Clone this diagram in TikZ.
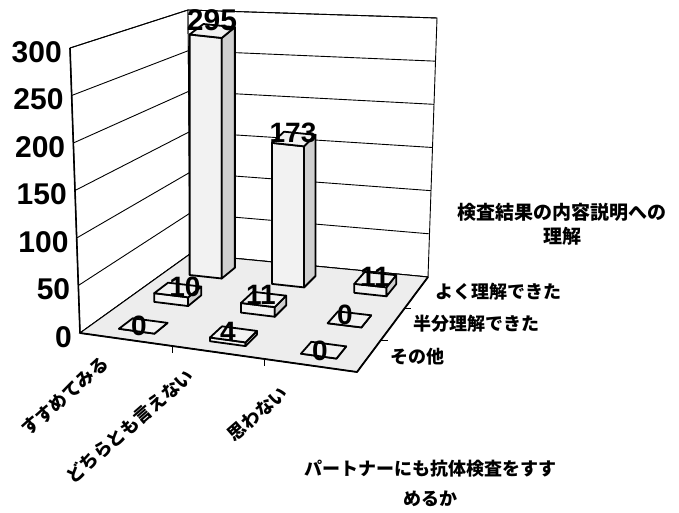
\documentclass[tikz,border=0pt]{standalone}
\usepackage{fontspec}
\setmainfont{Liberation Sans}
\newfontfamily\jp{Noto Sans CJK JP}
\usetikzlibrary{calc}

\newcommand\fp[3]{%
  \pgfmathsetmacro\fpx{(1-(#3))*((1-(#2))*80+(#2)*357)+(#3)*((1-(#2))*190+(#2)*428)}%
  \pgfmathsetmacro\fpy{(1-(#3))*((1-(#2))*333+(#2)*372)+(#3)*((1-(#2))*254+(#2)*277)}%
  \coordinate (#1) at (\fpx,\fpy);}

\newcommand\mybar[4]{%
  \pgfmathsetmacro\bh{(#4)*(0.957-0.17*(#3))}%
  \fp{#1a}{#2-0.065}{#3-0.065}%
  \fp{#1b}{#2+0.065}{#3-0.065}%
  \fp{#1c}{#2+0.065}{#3+0.065}%
  \fp{#1d}{#2-0.065}{#3+0.065}%
  \coordinate (#1A) at ($(#1a)+(0,-\bh)$);
  \coordinate (#1B) at ($(#1b)+(0,-\bh)$);
  \coordinate (#1C) at ($(#1c)+(0,-\bh)$);
  \coordinate (#1D) at ($(#1d)+(0,-\bh)$);
  \filldraw[barfront] (#1a)--(#1b)--(#1B)--(#1A)--cycle;
  \filldraw[barside] (#1b)--(#1c)--(#1C)--(#1B)--cycle;
  \filldraw[bartop] (#1A)--(#1B)--(#1C)--(#1D)--cycle;
}

\tikzset{
  barfront/.style={fill=gray!10, draw=black, line width=1.8pt, line join=round},
  barside/.style={fill=gray!38, draw=black, line width=1.8pt, line join=round},
  bartop/.style={fill=gray!10, draw=black, line width=1.8pt, line join=round},
  grid/.style={draw=black, line width=0.9pt},
  ylab/.style={font=\fontsize{30}{30}\selectfont\bfseries, anchor=east, inner sep=0pt},
  dlab/.style={font=\fontsize{28}{28}\selectfont\bfseries, inner sep=0pt},
  cat/.style={font=\jp\bfseries\fontsize{18}{18}\selectfont, rotate=41, anchor=east, inner sep=0pt},
  leg/.style={font=\jp\bfseries\fontsize{18}{18}\selectfont, anchor=west, inner sep=0pt},
  ttl/.style={font=\jp\bfseries\fontsize{19}{24}\selectfont, align=center, inner sep=0pt},
}

\begin{document}
\begin{tikzpicture}[x=1pt,y=-1pt]
\useasboundingbox (0,0) rectangle (679,513);

% corners
\coordinate (FL) at (80,333);
\coordinate (FR) at (357,372);
\coordinate (BR) at (428,277);
\coordinate (BL) at (190,254);
\coordinate (FLT) at (70,48);
\coordinate (BLT) at (188,10);
\coordinate (BRT) at (437,18);

% walls
\filldraw[fill=white, grid] (FL)--(FLT)--(BLT)--(BL)--cycle;
\filldraw[fill=white, grid] (BL)--(BLT)--(BRT)--(BR)--cycle;

% gridlines and y labels
\foreach \k/\lab in {0/0,1/50,2/100,3/150,4/200,5/250,6/300}{
  \pgfmathsetmacro\f{\k/6}
  \coordinate (gf\k) at ($(FL)!\f!(FLT)$);
  \coordinate (gb\k) at ($(BL)!\f!(BLT)$);
  \coordinate (gr\k) at ($(BR)!\f!(BRT)$);
  \draw[grid] (gf\k)--(gb\k)--(gr\k);
  \node[ylab] (y\k) at ($(gf\k)+(-8,4)$) {\lab};
}
\draw[line width=1.6pt] (FL)--(FLT);

% floor
\filldraw[fill=gray!14, draw=black, line width=1pt] (FL)--(FR)--(BR)--(BL)--cycle;
\draw[line width=1.8pt, line join=round] (FL)--(FR)--(BR);

% ticks on category and series axes
\foreach \u in {0.3333,0.6667}{
  \fp{tc}{\u}{0}
  \draw[line width=1.2pt] (tc) -- ++(0,7);
}
\foreach \v in {0.3333,0.6667}{
  \fp{ts}{1}{\v}
  \draw[line width=1.2pt] (ts) -- ++(7,0);
}

% bars: back row
\mybar{b1}{1/6}{5/6}{295}
\mybar{b2}{1/2}{5/6}{173}
\mybar{b3}{5/6}{5/6}{11}
% middle row
\mybar{m1}{1/6}{1/2}{10}
\mybar{m2}{1/2}{1/2}{11}
\mybar{m3}{5/6}{1/2}{0}
% front row
\mybar{f1}{1/6}{1/6}{0}
\mybar{f2}{1/2}{1/6}{4}
\mybar{f3}{5/6}{1/6}{0}

% data labels
\node[dlab, font=\fontsize{30}{30}\selectfont\bfseries] (v1) at (212,20) {295};
\node[dlab] (v2) at (293,133) {173};
\node[dlab] (v3) at (375,277) {11};
\node[dlab] (v4) at (185,287) {10};
\node[dlab] (v5) at (261,295) {11};
\node[dlab] (v6) at (345,315) {0};
\node[dlab] (v7) at (139,326) {0};
\node[dlab] (v8) at (228,332) {4};
\node[dlab] (v9) at (320,351) {0};

% category labels
\node[cat] (c1) at (106,361) {すすめてみる};
\node[cat] (c2) at (191,373) {どちらとも言えない};
\node[cat] (c3) at (285,390) {思わない};

% series labels
\node[leg] (s1) at (435,292) {よく理解できた};
\node[leg] (s2) at (413,324) {半分理解できた};
\node[leg] (s3) at (390,357) {その他};

% titles
\node[ttl] (t1) at (562,224) {検査結果の内容説明への\\理解};
\node[ttl, font=\jp\bfseries\fontsize{18}{30}\selectfont] (t2) at (430,483) {パートナーにも抗体検査をすす\\めるか};
\end{tikzpicture}
\end{document}
